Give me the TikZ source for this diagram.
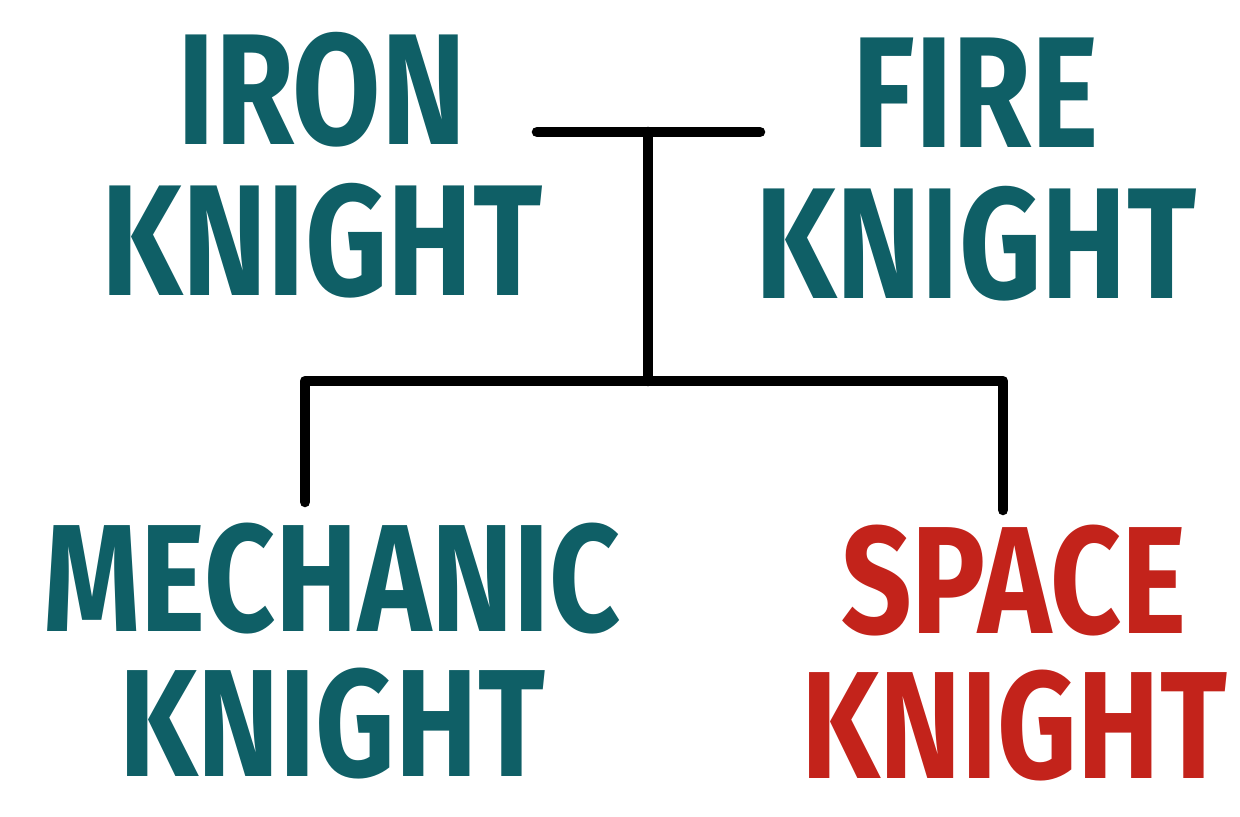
\documentclass[tikz,border=0pt]{standalone}
\usepackage{fontspec}
\newfontfamily\brushfont[FakeStretch=0.81]{Fira Sans}
\usepackage{tikz}
\usetikzlibrary{positioning,calc}

\definecolor{knightteal}{HTML}{0F5F66}
\definecolor{knightred}{HTML}{C3231B}

\begin{document}
\begin{tikzpicture}[
    x=0.02cm, y=-0.02cm,
    knight/.style={inner sep=0pt, align=center, text=knightteal,
        font=\brushfont\bfseries\fontsize{90}{86}\selectfont},
    child/.style={knight, font=\brushfont\bfseries\fontsize{87}{83}\selectfont},
    tree/.style={line width=6pt, line cap=round, line join=round}
]
\useasboundingbox (0,0) rectangle (1240,817);

% Parents
\node[knight] (iron) at (322,165) {IRON\\KNIGHT};
\node[knight] (fire) at (976,170) {FIRE\\KNIGHT};

% Children
\node[child] (mechanic) at (332,651) {MECHANIC\\KNIGHT};
\node[child, text=knightred] (space) at (1014,653) {SPACE\\KNIGHT};

% Junctions
\coordinate (ironbar) at (537,132);
\coordinate (firebar) at (760,132);
\coordinate (couple) at (648,132);
\coordinate (siblings) at (648,381);
\coordinate (mechanicdrop) at (305,502);
\coordinate (spacedrop) at (1003,510);

% Lines
\draw[tree] (ironbar) -- (firebar);
\draw[tree] (couple) -- (siblings);
\draw[tree] (mechanicdrop) |- (siblings) -| (spacedrop);

\end{tikzpicture}
\end{document}
